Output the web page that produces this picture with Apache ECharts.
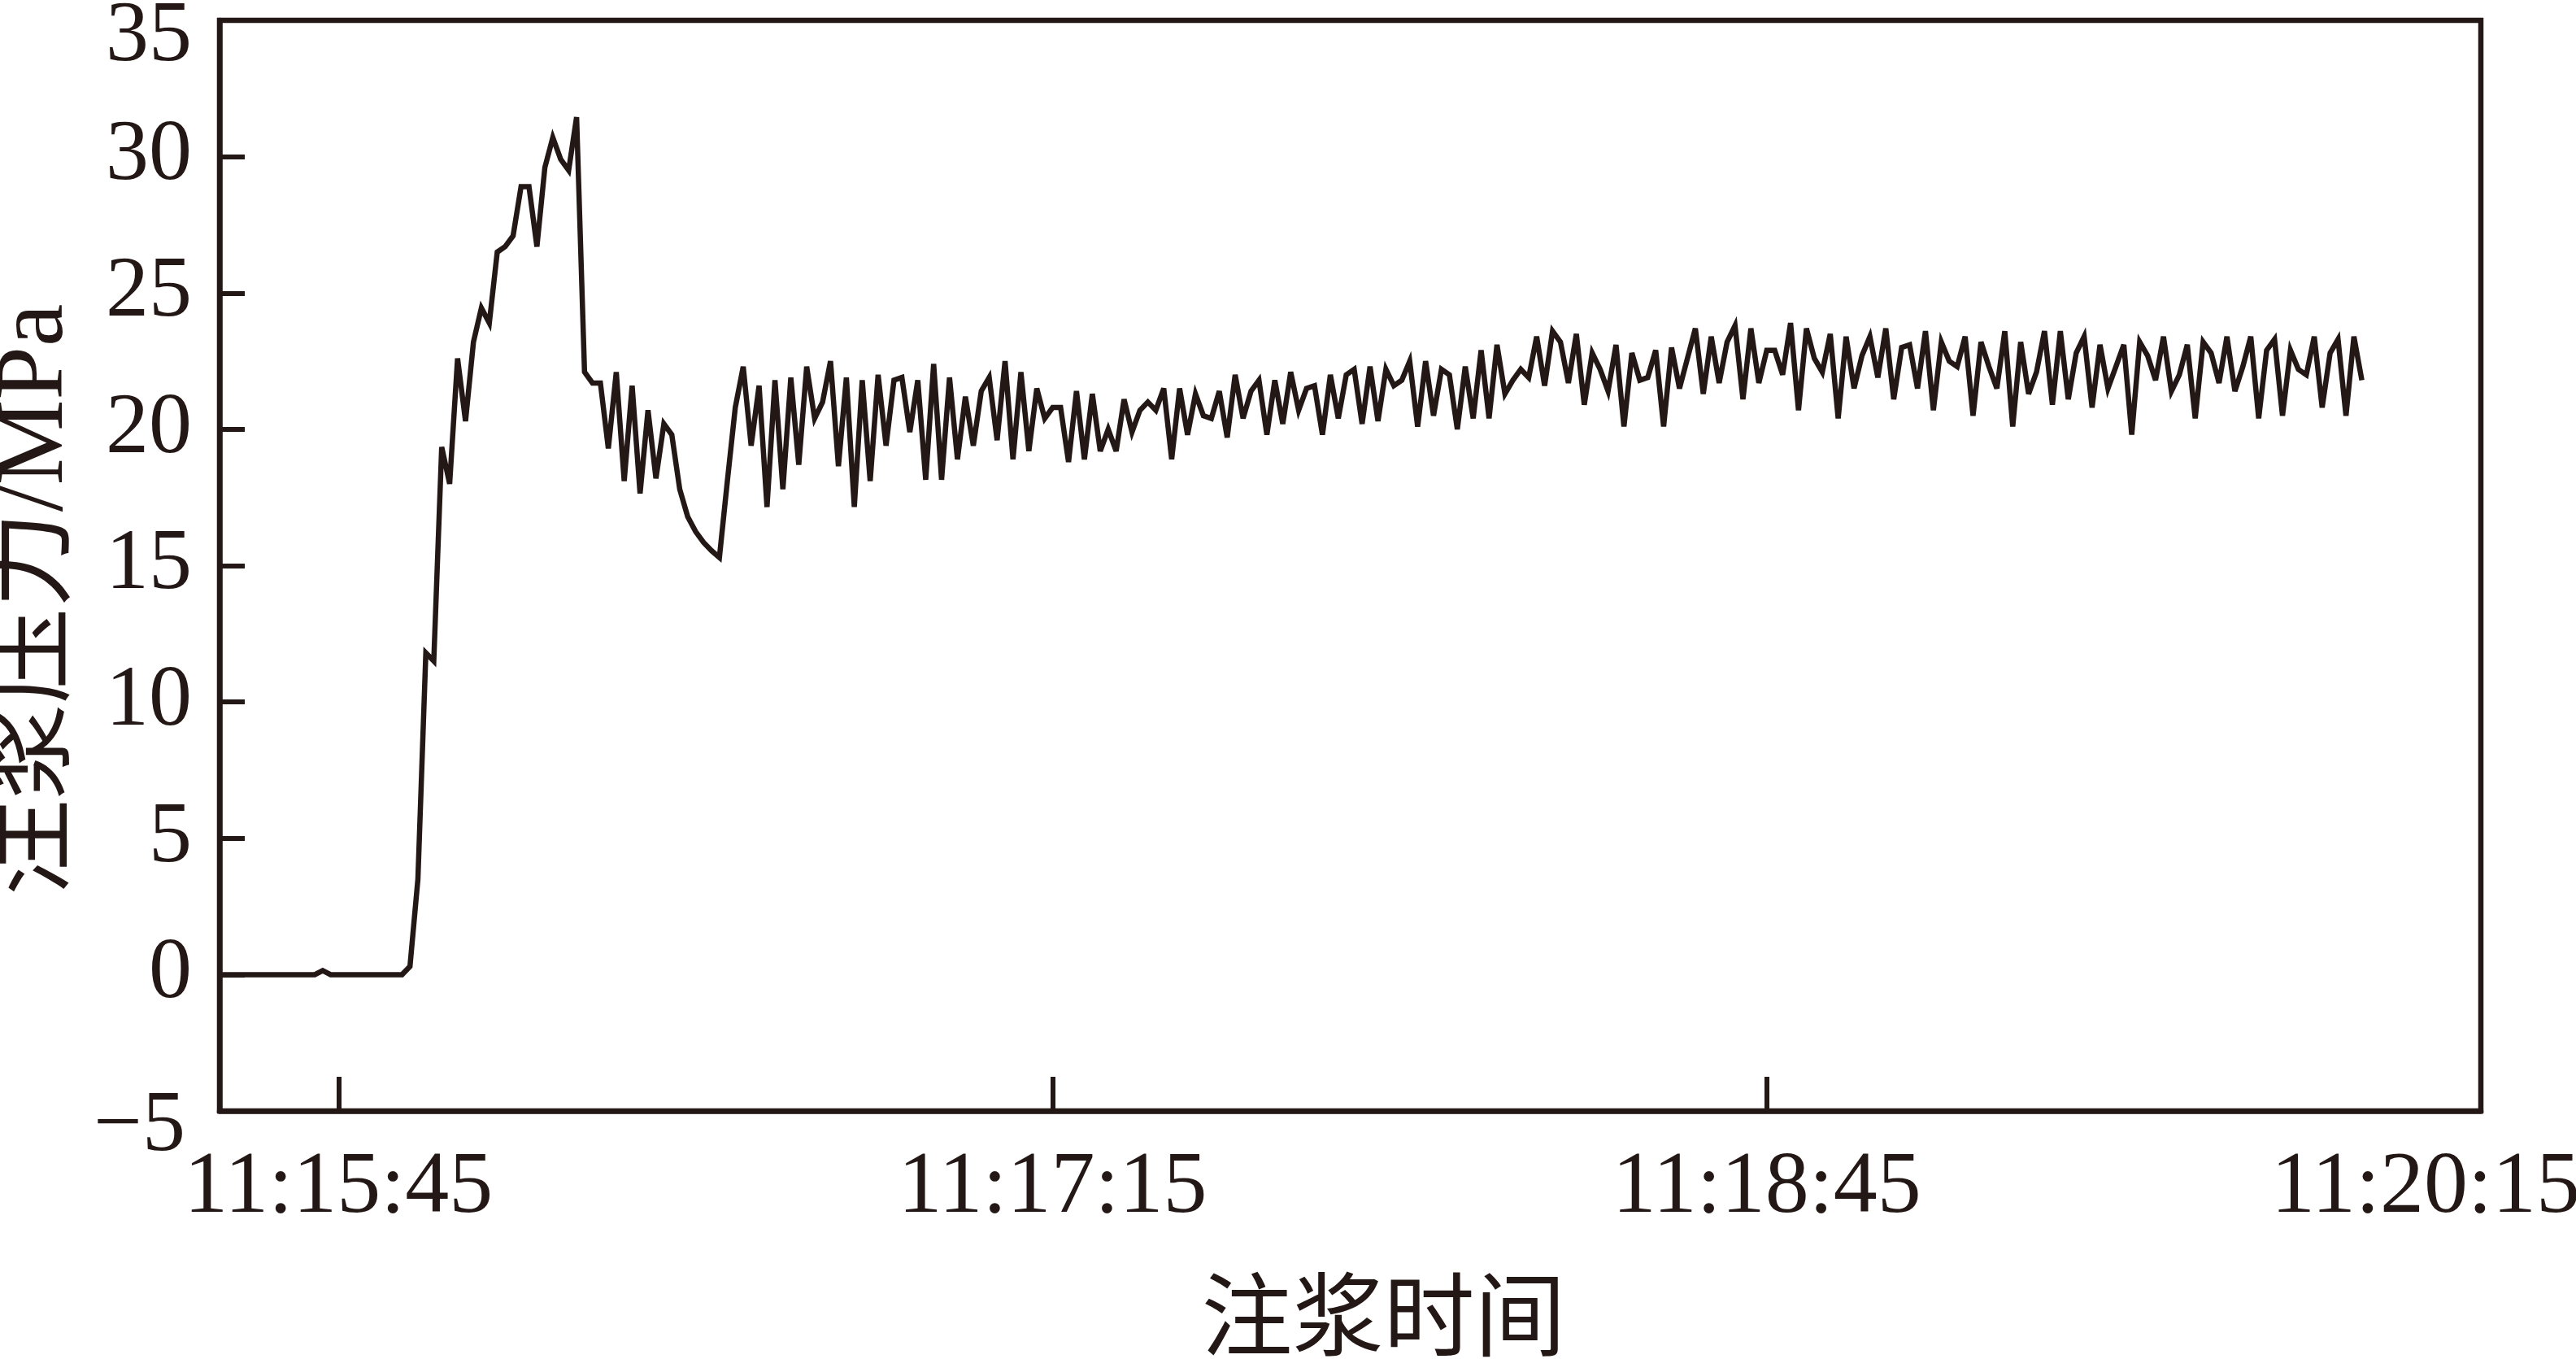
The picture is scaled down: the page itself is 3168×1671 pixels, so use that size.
<!DOCTYPE html>
<html>
<head>
<meta charset="utf-8">
<script src="https://cdn.jsdelivr.net/npm/echarts@6/dist/echarts.min.js"></script>
<style>
html,body{margin:0;padding:0;background:#fff;}
#chart{width:3168px;height:1671px;}
</style>
</head>
<body>
<div id="chart"></div>
<script>
// Time axis: seconds after start, one sample per second
const startTime = [11, 15, 30];          // 11:15:30 = left edge of the axis
const axisEndSeconds = 285;              // 11:20:15 = right edge
const tickSeconds = [15, 105, 195, 285]; // 11:15:45, 11:17:15, 11:18:45, 11:20:15
const tickLabels = ['11:15:45', '11:17:15', '11:18:45', '11:20:15'];
const yTicks = [-5, 0, 5, 10, 15, 20, 25, 30, 35];

// grouting pressure (MPa), one reading per second from 11:15:30
const pressure = [
  0,0,0,0,0,0,0,0,0,0,
  0,0,0,0.15,0,0,0,0,0,0,
  0,0,0,0,0.3,3.5,11.8,11.5,19.35,18.0,
  22.6,20.3,23.2,24.45,23.9,26.5,26.7,27.1,28.9,28.9,
  26.7,29.6,30.7,29.9,29.5,31.45,22.1,21.7,21.7,19.3,
  22.1,18.1,21.6,17.65,20.7,18.2,20.2,19.8,17.8,16.8,
  16.25,15.85,15.55,15.3,18.1,20.8,22.3,19.4,21.6,17.15,
  21.8,17.8,21.9,18.7,22.3,20.4,21.0,22.5,18.65,21.9,
  17.15,21.8,18.1,22.0,19.4,21.8,21.9,19.9,21.8,18.15,
  22.4,18.15,21.9,18.9,21.2,19.4,21.4,21.9,19.6,22.5,
  18.9,22.1,19.2,21.5,20.4,20.8,20.8,18.8,21.4,18.9,
  21.3,19.2,20.0,19.2,21.1,19.9,20.7,21.0,20.7,21.5,
  18.9,21.5,19.8,21.3,20.5,20.4,21.4,19.7,22.0,20.4,
  21.4,21.8,19.8,21.8,20.2,22.1,20.7,21.5,21.6,19.8,
  22.0,20.4,22.0,22.2,20.2,22.3,20.3,22.2,21.6,21.8,
  22.5,20.1,22.5,20.5,22.2,22.0,20.0,22.3,20.4,22.9,
  20.4,23.1,21.3,21.8,22.2,21.9,23.4,21.6,23.6,23.2,
  21.7,23.5,20.9,22.8,22.2,21.4,23.1,20.1,22.8,21.8,
  21.9,22.9,20.1,23.0,21.5,22.6,23.7,21.3,23.4,21.7,
  23.2,23.8,21.1,23.7,21.7,22.9,22.9,22.0,23.9,20.7,
  23.7,22.6,22.1,23.5,20.4,23.4,21.5,22.7,23.4,21.9,
  23.7,21.1,23.0,23.1,21.5,23.6,20.7,23.2,22.5,22.3,
  23.4,20.5,23.2,22.3,21.5,23.6,20.1,23.2,21.3,22.1,
  23.6,20.9,23.6,21.1,22.8,23.4,20.8,23.1,21.5,22.3,
  23.1,19.8,23.2,22.7,21.8,23.4,21.4,22.0,23.1,20.4,
  23.2,22.8,21.7,23.4,21.4,22.3,23.4,20.4,22.9,23.3,
  20.5,22.9,22.2,22.0,23.4,20.8,22.8,23.3,20.5,23.4,
  21.8
];

const INK = '#231815';
const SERIF = '"Liberation Serif","Times New Roman","Noto Sans CJK SC",serif';

const seriesData = pressure.map((v, i) => [i, v]);

const chart = echarts.init(document.getElementById('chart'), null, {renderer: 'canvas'});
chart.setOption({
  animation: false,
  backgroundColor: '#ffffff',
  grid: {left: 270, right: 117, top: 25, bottom: 305, show: true,
         containLabel: false, outerBoundsMode: 'none',
         borderColor: INK, borderWidth: 6.5, backgroundColor: 'transparent'},
  xAxis: {
    type: 'value', min: 0, max: axisEndSeconds,
    axisLine: {show: true, onZero: false, lineStyle: {color: INK, width: 6.5}},
    axisTick: {show: true, inside: true, length: 42, customValues: tickSeconds,
               lineStyle: {color: INK, width: 6}},
    axisLabel: {
      show: true, customValues: tickSeconds, margin: 42,
      color: INK, fontFamily: SERIF, fontSize: 108,
      showMinLabel: true, showMaxLabel: true,
      formatter: (v) => {
        const i = tickSeconds.indexOf(Math.round(v));
        if (i < 0) return '';
        return i === tickSeconds.length - 1 ? '{last|' + tickLabels[i] + '}' : tickLabels[i];
      },
      rich: {last: {fontFamily: SERIF, fontSize: 108, color: INK, padding: [0, 136, 0, 0]}}
    },
    splitLine: {show: false},
    name: '注浆时间', nameLocation: 'middle', nameGap: 208,
    nameTextStyle: {color: INK, fontFamily: SERIF, fontSize: 112, padding: [0, 0, 0, 82]}
  },
  yAxis: {
    type: 'value', min: -5, max: 35, interval: 5,
    axisLine: {show: true, lineStyle: {color: INK, width: 6.5}},
    axisTick: {show: true, inside: true, length: 31, lineStyle: {color: INK, width: 6}},
    axisLabel: {
      margin: 34, color: INK, fontFamily: SERIF, fontSize: 106,
      formatter: (v) => {
        if (v === 35) return '{top|35}';
        if (v < 0) return '{neg|\u2212' + Math.abs(v) + '}';
        return String(v);
      },
      rich: {
        top: {fontFamily: SERIF, fontSize: 106, color: INK, padding: [42, 0, 0, 0]},
        neg: {fontFamily: SERIF, fontSize: 106, color: INK, padding: [40, 8, 0, 0]}
      }
    },
    splitLine: {show: false},
    name: '注浆压力/MPa', nameLocation: 'middle', nameGap: 150, nameRotate: 90,
    nameTextStyle: {color: INK, fontFamily: SERIF, fontSize: 118, padding: [0, 84, 0, 0]}
  },
  series: [{
    type: 'line', data: seriesData, showSymbol: false, symbol: 'none',
    lineStyle: {color: INK, width: 6.5, join: 'miter', miterLimit: 4},
    clip: true
  }]
});
</script>
</body>
</html>
